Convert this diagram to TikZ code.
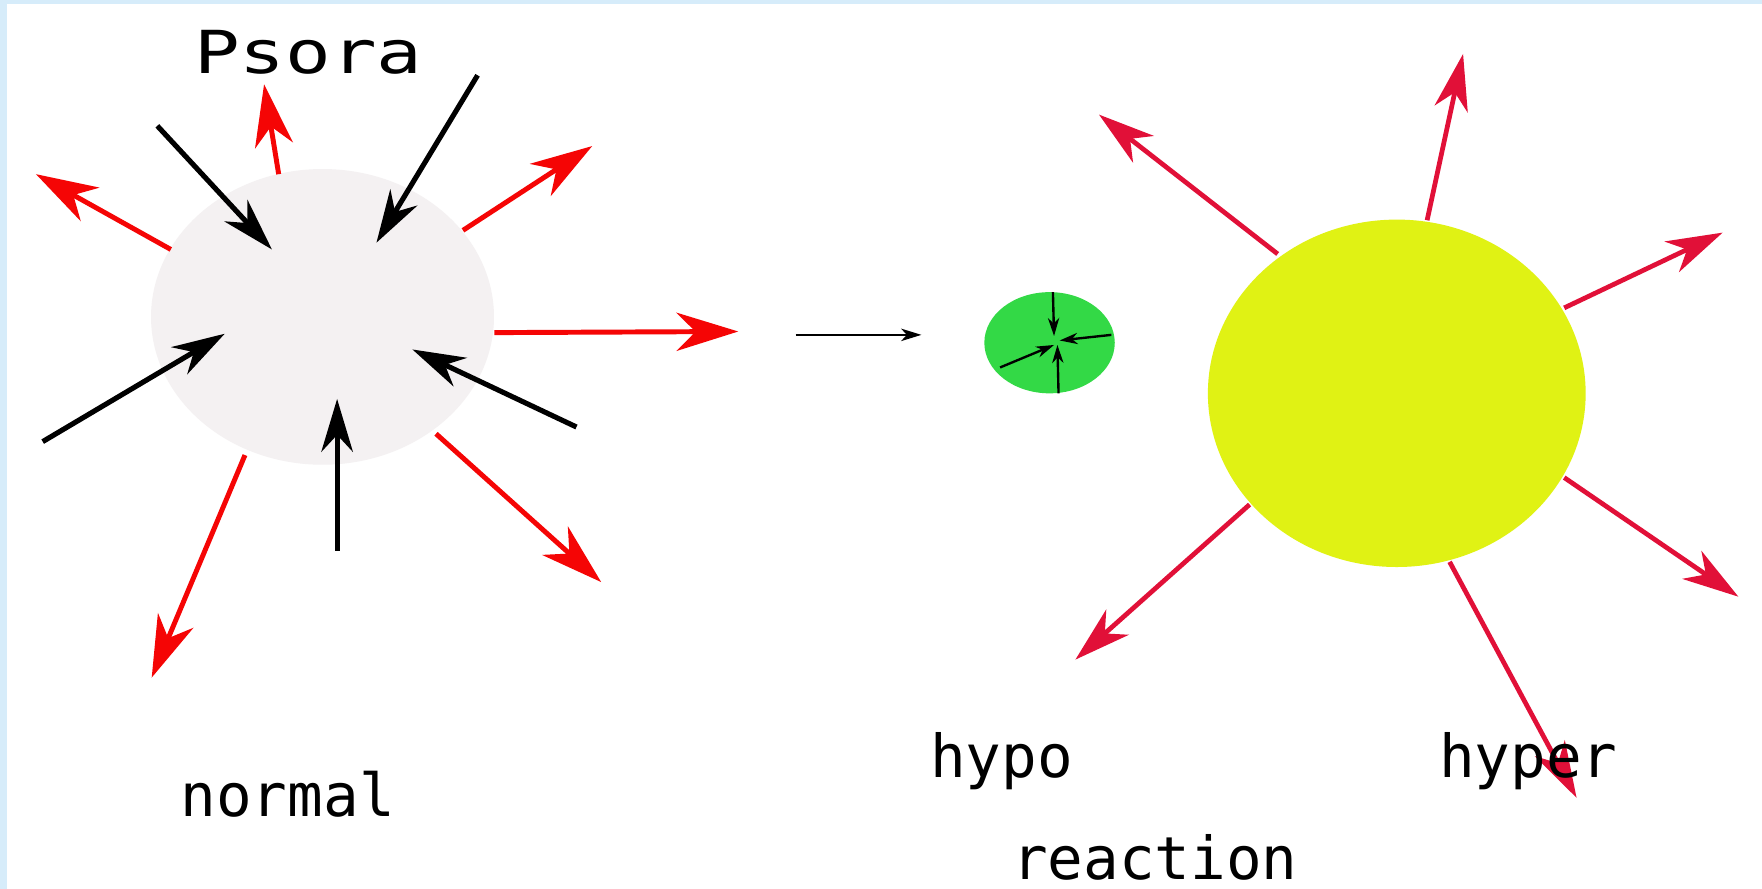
\documentclass[tikz,border=0pt]{standalone}
\usepackage{fontspec}
\setmainfont{DejaVu Sans Mono}
\usetikzlibrary{arrows.meta,shapes.geometric}
\definecolor{bgblue}{RGB}{214,236,250}
\definecolor{greyfill}{RGB}{244,241,242}
\definecolor{redA}{RGB}{245,5,5}
\definecolor{redB}{RGB}{225,16,56}
\definecolor{greenfill}{RGB}{51,217,70}
\definecolor{yellowfill}{RGB}{224,242,20}
\tikzset{
  redarrow/.style={draw=redA, line width=1.25pt, -{Stealth[length=0.55cm,width=0.34cm,inset=0.17cm]}},
  crimsonarrow/.style={draw=redB, line width=1.2pt, -{Stealth[length=0.5cm,width=0.3cm,inset=0.15cm]}},
  blackarrow/.style={draw=black, line width=1.3pt, -{Stealth[length=0.47cm,width=0.28cm,inset=0.15cm]}},
  thinarrow/.style={draw=black, line width=0.6pt, -{Stealth[length=0.18cm,width=0.11cm,inset=0.05cm]}},
  tinyarrow/.style={draw=black, line width=0.6pt, -{Stealth[length=0.16cm,width=0.1cm,inset=0.05cm]}},
  lbl/.style={anchor=base west, inner sep=0pt, font=\fontsize{15}{18}\selectfont}
}
\begin{document}
\begin{tikzpicture}[x=0.01cm,y=-0.01cm]
\fill[bgblue] (0,0) rectangle (1568,791);
\fill[white] (6,4) rectangle (1568,791);
\useasboundingbox (0,0) rectangle (1568,791);

% bodies
\node[ellipse, fill=greyfill, minimum width=3.05cm, minimum height=2.63cm, inner sep=0pt] (grey) at (287,282) {};
\node[ellipse, fill=greenfill, minimum width=1.16cm, minimum height=0.9cm, inner sep=0pt] (green) at (934,305) {};
\node[ellipse, fill=yellowfill, minimum width=3.36cm, minimum height=3.09cm, inner sep=0pt] (yellow) at (1243,350) {};

% left red arrows
\coordinate (r1s) at (152,222); \coordinate (r1e) at (32,155);
\coordinate (r2s) at (248,155); \coordinate (r2e) at (235,75);
\coordinate (r3s) at (412,205); \coordinate (r3e) at (527,130);
\coordinate (r4s) at (440,296); \coordinate (r4e) at (657,295);
\coordinate (r5s) at (388,386); \coordinate (r5e) at (535,518);
\coordinate (r6s) at (218,405); \coordinate (r6e) at (135,603);
\foreach \i in {1,...,6} \draw[redarrow] (r\i s) -- (r\i e);

% left black arrows
\coordinate (b1s) at (140,112); \coordinate (b1e) at (242,222);
\coordinate (b2s) at (425,67);  \coordinate (b2e) at (335,216);
\coordinate (b3s) at (38,393);  \coordinate (b3e) at (200,297);
\coordinate (b4s) at (513,380); \coordinate (b4e) at (367,311);
\coordinate (b5s) at (300,490); \coordinate (b5e) at (300,355);
\foreach \i in {1,...,5} \draw[blackarrow] (b\i s) -- (b\i e);

% middle arrow
\coordinate (ms) at (708,298); \coordinate (me) at (820,298);
\draw[thinarrow] (ms) -- (me);

% green small arrows
\coordinate (g1s) at (937,260); \coordinate (g1e) at (938,299);
\coordinate (g2s) at (989,298); \coordinate (g2e) at (943,303);
\coordinate (g3s) at (942,350); \coordinate (g3e) at (941,307);
\coordinate (g4s) at (890,327); \coordinate (g4e) at (938,307);
\foreach \i in {1,...,4} \draw[tinyarrow] (g\i s) -- (g\i e);

% right crimson arrows
\coordinate (c1s) at (1137,226); \coordinate (c1e) at (978,102);
\coordinate (c2s) at (1270,196); \coordinate (c2e) at (1302,48);
\coordinate (c3s) at (1392,274); \coordinate (c3e) at (1533,207);
\coordinate (c4s) at (1392,425); \coordinate (c4e) at (1547,531);
\coordinate (c5s) at (1290,500); \coordinate (c5e) at (1403,710);
\coordinate (c6s) at (1112,449); \coordinate (c6e) at (957,587);
\foreach \i in {1,...,6} \draw[crimsonarrow] (c\i s) -- (c\i e);

% labels
\node[lbl] (psora) at (172,65) {\scalebox{1.28}[1]{Psora}};
\node[lbl] (normal) at (160,727) {normal};
\node[lbl] (hypo) at (827,692) {hypo};
\node[lbl] (hyper) at (1280,692) {hyper};
\node[lbl] (reaction) at (900,783) {reaction};
\end{tikzpicture}
\end{document}
